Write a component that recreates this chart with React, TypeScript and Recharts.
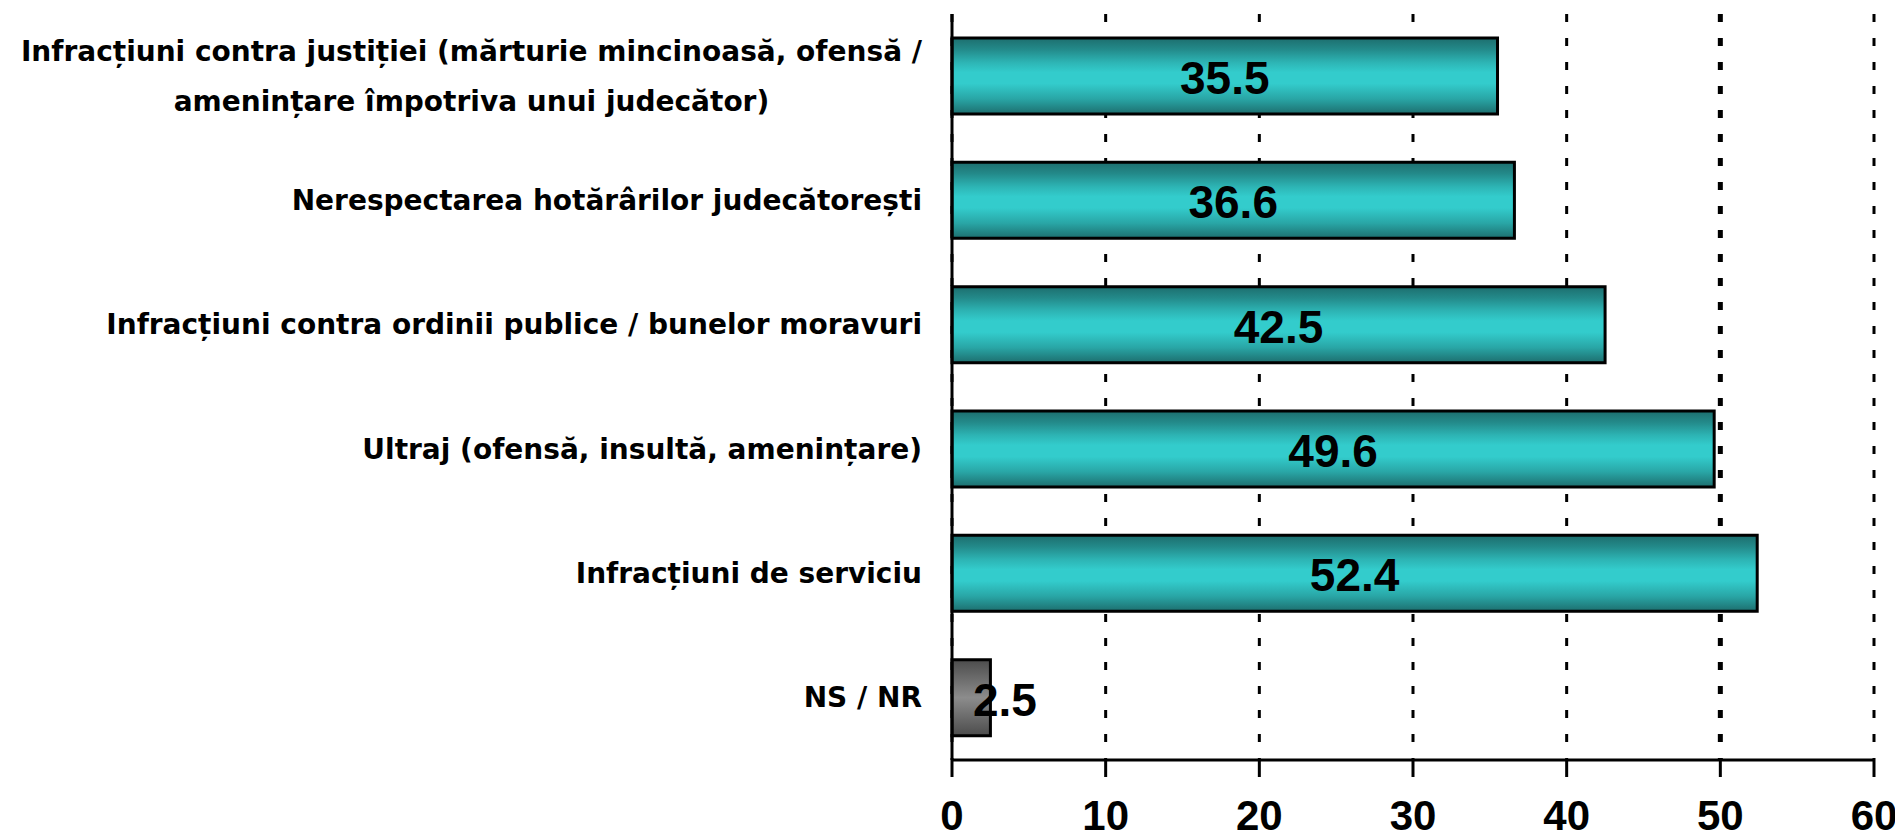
import { BarChart, Bar, XAxis, YAxis, CartesianGrid, LabelList, Cell } from 'recharts';

const categories = [
  'Infracțiuni contra justiției (mărturie mincinoasă, ofensă /\namenințare împotriva unui judecător)',
  'Nerespectarea hotărârilor judecătorești',
  'Infracțiuni contra ordinii publice / bunelor moravuri',
  'Ultraj (ofensă, insultă, amenințare)',
  'Infracțiuni de serviciu',
  'NS / NR',
];
const values = [35.5, 36.6, 42.5, 49.6, 52.4, 2.5];
const xTicks = [0, 10, 20, 30, 40, 50, 60];

const data = categories.map((name, i) => ({ name, value: values[i] }));

const CAT_FONT = 'bold 28px "DejaVu Sans"';
const VAL_FONT = 'bold 46px "Liberation Sans"';

let ctx: CanvasRenderingContext2D | null = null;
function measure(text: string, font: string) {
  if (!ctx) ctx = document.createElement('canvas').getContext('2d');
  if (!ctx) return text.length * 14;
  ctx.font = font;
  return ctx.measureText(text).width;
}

function CategoryTick(props: any) {
  const { x, y, payload } = props;
  const lines: string[] = String(payload.value).split('\n');
  const style = { fontFamily: '"DejaVu Sans"', fontWeight: 'bold' as const, fontSize: 28, fill: '#000' };
  if (lines.length === 1) {
    return (
      <text x={x} y={y} textAnchor="end" dominantBaseline="central" {...style}>
        {lines[0]}
      </text>
    );
  }
  // multi-line label: block is right aligned, lines centred inside it
  const w = Math.max(...lines.map((l) => measure(l, CAT_FONT)));
  const cx = x - w / 2;
  const step = 50;
  const y0 = y - ((lines.length - 1) * step) / 2;
  return (
    <g>
      {lines.map((l, i) => (
        <text key={i} x={cx} y={y0 + i * step} textAnchor="middle" dominantBaseline="central" {...style}>
          {l}
        </text>
      ))}
    </g>
  );
}

function ValueTick(props: any) {
  const { x, y, payload } = props;
  return (
    <text x={x} y={y + 51} textAnchor="middle" fontFamily='"Liberation Sans", Arial' fontWeight="bold" fontSize={42} fill="#000">
      {payload.value}
    </text>
  );
}

function ValueLabel(props: any) {
  const { x, y, width, height, value } = props;
  const txt = String(value);
  const tw = measure(txt, VAL_FONT);
  const cx = Math.max(x + width / 2, x + 21 + tw / 2);
  return (
    <text x={cx} y={y + height / 2 + 2} textAnchor="middle" dominantBaseline="central" fontFamily='"Liberation Sans", Arial' fontWeight="bold" fontSize={46} fill="#000">
      {txt}
    </text>
  );
}

function GridLine(props: any) {
  const { x1, x2, y1, y2, index } = props;
  return (
    <line
      x1={x1}
      x2={x2}
      y1={y1}
      y2={y2}
      stroke="#000"
      strokeWidth={index === 5 ? 5 : 3}
      strokeDasharray="8 16"
    />
  );
}

export default function App() {
  return (
    <div style={{ width: 1895, height: 838, background: '#fff' }}>
      <style>{'body{margin:0}'}</style>
      <svg width={0} height={0} style={{ position: 'absolute' }}>
        <defs>
          <linearGradient id="tealGrad" x1="0" y1="0" x2="0" y2="1">
            <stop offset="0" stopColor="#1d6e6e" />
            <stop offset="0.15" stopColor="#238a8a" />
            <stop offset="0.32" stopColor="#2db4b4" />
            <stop offset="0.45" stopColor="#33cccc" />
            <stop offset="0.6" stopColor="#33cccc" />
            <stop offset="0.8" stopColor="#29a6a6" />
            <stop offset="1" stopColor="#1d6e6e" />
          </linearGradient>
          <linearGradient id="grayGrad" x1="0" y1="0" x2="0" y2="1">
            <stop offset="0" stopColor="#4c4c4c" />
            <stop offset="0.5" stopColor="#8c8c8c" />
            <stop offset="1" stopColor="#4c4c4c" />
          </linearGradient>
        </defs>
      </svg>
      <BarChart
        width={1895}
        height={838}
        data={data}
        layout="vertical"
        margin={{ top: 14, right: 21, bottom: 0, left: 0 }}
      >
        <CartesianGrid horizontal={false} vertical={GridLine} />
        <XAxis
          type="number"
          domain={[0, 60]}
          ticks={xTicks}
          height={78}
          axisLine={{ stroke: '#000', strokeWidth: 3 }}
          tickLine={{ stroke: '#000', strokeWidth: 3 }}
          tickSize={17}
          tick={<ValueTick />}
          interval={0}
        />
        <YAxis
          type="category"
          dataKey="name"
          width={952}
          axisLine={{ stroke: '#000', strokeWidth: 3 }}
          tickLine={false}
          tickSize={0}
          tickMargin={30}
          tick={<CategoryTick />}
          interval={0}
        />
        <Bar dataKey="value" barSize={76} stroke="#000" strokeWidth={3} isAnimationActive={false}>
          {data.map((d, i) => (
            <Cell key={d.name} fill={i === data.length - 1 ? 'url(#grayGrad)' : 'url(#tealGrad)'} />
          ))}
          <LabelList dataKey="value" content={<ValueLabel />} />
        </Bar>
      </BarChart>
    </div>
  );
}
